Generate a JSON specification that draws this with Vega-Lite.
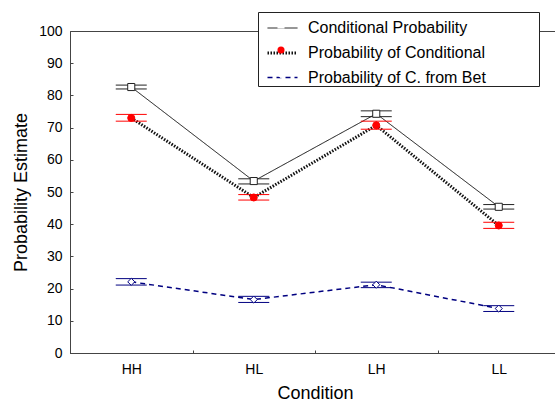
{
  "$schema": "https://vega.github.io/schema/vega-lite/v6.json",
  "width": 485,
  "height": 322,
  "autosize": {"type": "none"},
  "padding": {"left": 70, "top": 31, "right": 0, "bottom": 50},
  "background": "white",
  "config": {
    "font": "Liberation Sans",
    "view": {"stroke": "#444", "strokeWidth": 1},
    "axis": {"grid": false, "domainColor": "#444", "tickColor": "#444", "labelColor": "black", "titleColor": "black", "titleFontWeight": "normal", "labelOverlap": false}
  },
  "data": {
    "values": [
      {"condition": "HH", "series": "Conditional Probability", "value": 82.6, "lo": 82.0, "hi": 83.2},
      {"condition": "HL", "series": "Conditional Probability", "value": 53.4, "lo": 52.5, "hi": 54.1},
      {"condition": "LH", "series": "Conditional Probability", "value": 74.3, "lo": 73.4, "hi": 75.2},
      {"condition": "LL", "series": "Conditional Probability", "value": 45.4, "lo": 44.7, "hi": 46.1},
      {"condition": "HH", "series": "Probability of Conditional", "value": 73.0, "lo": 72.0, "hi": 74.1},
      {"condition": "HL", "series": "Probability of Conditional", "value": 48.3, "lo": 47.5, "hi": 49.2},
      {"condition": "LH", "series": "Probability of Conditional", "value": 70.7, "lo": 69.5, "hi": 72.0},
      {"condition": "LL", "series": "Probability of Conditional", "value": 39.6, "lo": 38.7, "hi": 40.6},
      {"condition": "HH", "series": "Probability of C. from Bet", "value": 22.1, "lo": 21.1, "hi": 23.1},
      {"condition": "HL", "series": "Probability of C. from Bet", "value": 16.6, "lo": 15.7, "hi": 17.6},
      {"condition": "LH", "series": "Probability of C. from Bet", "value": 21.2, "lo": 20.3, "hi": 22.0},
      {"condition": "LL", "series": "Probability of C. from Bet", "value": 13.8, "lo": 12.9, "hi": 14.7}
    ]
  },
  "encoding": {
    "x": {
      "field": "condition",
      "type": "nominal",
      "sort": ["HH", "HL", "LH", "LL"],
      "scale": {"type": "band", "domain": ["HH", "HL", "LH", "LL"], "paddingInner": 0, "paddingOuter": 0, "range": [0, 490]},
      "axis": {
        "title": "Condition",
        "labelAngle": 0,
        "tickBand": "extent",
        "tickSize": -3,
        "labelPadding": 12,
        "labelFontSize": 14,
        "titleFontSize": 18,
        "titlePadding": 8
      }
    }
  },
  "layer": [
    {
      "mark": {"type": "line"},
      "encoding": {
        "y": {
          "field": "value",
          "type": "quantitative",
          "scale": {"domain": [0, 100], "nice": false},
          "axis": {"title": "Probability Estimate", "values": [0, 10, 20, 30, 40, 50, 60, 70, 80, 90, 100], "labelOverlap": false, "tickSize": -3, "labelPadding": 11, "labelFontSize": 14, "titleFontSize": 18, "titlePadding": 8}
        },
        "stroke": {
          "field": "series",
          "type": "nominal",
          "scale": {"domain": ["Conditional Probability", "Probability of Conditional", "Probability of C. from Bet"], "range": ["#111111", "#111111", "#000080"]},
          "legend": {
            "orient": "none",
            "legendX": 188,
            "legendY": -19,
            "direction": "vertical",
            "padding": 0.5,
            "fillColor": "white",
            "strokeColor": "#222222",
            "symbolType": "stroke",
            "symbolSize": 900,
            "symbolOffset": 7.5,
            "labelOffset": 9,
            "labelFontSize": 16,
            "labelColor": "black",
            "labelLimit": 400,
            "rowPadding": 0,
            "title": "Series",
            "titleOrient": "right",
            "titleFontSize": 10,
            "titleOpacity": 0,
            "titlePadding": 22.5,
            "zindex": 0,
            "encode": {
              "symbols": {
                "update": {
                  "strokeDash": {"scale": "strokeDash", "field": "value"},
                  "strokeWidth": {"scale": "strokeWidth", "field": "value"}
                }
              }
            }
          }
        },
        "strokeDash": {
          "field": "series",
          "type": "nominal",
          "scale": {"domain": ["Conditional Probability", "Probability of Conditional", "Probability of C. from Bet"], "range": [[1, 0], [1.5, 1.5], [5, 4]]},
          "legend": null
        },
        "strokeWidth": {
          "field": "series",
          "type": "nominal",
          "scale": {"type": "ordinal", "domain": ["Conditional Probability", "Probability of Conditional", "Probability of C. from Bet"], "range": [1, 3, 1.5]},
          "legend": null
        }
      }
    },
    {
      "mark": {"type": "rule", "strokeWidth": 1},
      "encoding": {
        "y": {"field": "lo", "type": "quantitative", "axis": {"title": "Probability Estimate", "values": [0, 10, 20, 30, 40, 50, 60, 70, 80, 90, 100], "labelOverlap": false, "tickSize": -3, "labelPadding": 11, "labelFontSize": 14, "titleFontSize": 18, "titlePadding": 8}},
        "y2": {"field": "hi"},
        "color": {
          "field": "series",
          "type": "nominal",
          "scale": {"domain": ["Conditional Probability", "Probability of Conditional", "Probability of C. from Bet"], "range": ["#222222", "#ff0000", "#000080"]},
          "legend": null
        }
      }
    },
    {
      "mark": {"type": "tick", "thickness": 1, "opacity": 1},
      "encoding": {
        "y": {"field": "lo", "type": "quantitative", "axis": {"title": "Probability Estimate", "values": [0, 10, 20, 30, 40, 50, 60, 70, 80, 90, 100], "labelOverlap": false, "tickSize": -3, "labelPadding": 11, "labelFontSize": 14, "titleFontSize": 18, "titlePadding": 8}},
        "size": {"value": 31},
        "color": {
          "field": "series",
          "type": "nominal",
          "scale": {"domain": ["Conditional Probability", "Probability of Conditional", "Probability of C. from Bet"], "range": ["#222222", "#ff0000", "#000080"]},
          "legend": null
        }
      }
    },
    {
      "mark": {"type": "tick", "thickness": 1, "opacity": 1},
      "encoding": {
        "y": {"field": "hi", "type": "quantitative", "axis": {"title": "Probability Estimate", "values": [0, 10, 20, 30, 40, 50, 60, 70, 80, 90, 100], "labelOverlap": false, "tickSize": -3, "labelPadding": 11, "labelFontSize": 14, "titleFontSize": 18, "titlePadding": 8}},
        "size": {"value": 31},
        "color": {
          "field": "series",
          "type": "nominal",
          "scale": {"domain": ["Conditional Probability", "Probability of Conditional", "Probability of C. from Bet"], "range": ["#222222", "#ff0000", "#000080"]},
          "legend": null
        }
      }
    },
    {
      "mark": {"type": "point", "filled": false, "opacity": 1, "strokeWidth": 1},
      "encoding": {
        "y": {"field": "value", "type": "quantitative", "axis": {"title": "Probability Estimate", "values": [0, 10, 20, 30, 40, 50, 60, 70, 80, 90, 100], "labelOverlap": false, "tickSize": -3, "labelPadding": 11, "labelFontSize": 14, "titleFontSize": 18, "titlePadding": 8}},
        "size": {"value": 50},
        "shape": {
          "field": "series",
          "type": "nominal",
          "scale": {"domain": ["Conditional Probability", "Probability of Conditional", "Probability of C. from Bet"], "range": ["square", "circle", "diamond"]},
          "legend": {
            "orient": "top-left",
            "offset": -19,
            "direction": "vertical",
            "padding": 5,
            "symbolSize": 50,
            "symbolOffset": 217,
            "symbolOpacity": 1,
            "symbolStrokeWidth": 1,
            "symbolStrokeColor": "#333333",
            "labelFontSize": 16,
            "labelExpr": "''",
            "rowPadding": 9,
            "title": null,
            "zindex": 1,
            "encode": {
              "symbols": {
                "update": {
                  "fill": {"scale": "fill", "field": "value"},
                  "stroke": {"signal": "datum.value === 'Probability of C. from Bet' ? '#000080' : (datum.value === 'Probability of Conditional' ? '#ff0000' : '#333333')"},
                  "strokeWidth": {"value": 1},
                  "opacity": {"value": 1}
                }
              }
            }
          }
        },
        "fill": {
          "field": "series",
          "type": "nominal",
          "scale": {"domain": ["Conditional Probability", "Probability of Conditional", "Probability of C. from Bet"], "range": ["white", "#ff0000", "white"]},
          "legend": null
        },
        "color": {
          "field": "series",
          "type": "nominal",
          "scale": {"domain": ["Conditional Probability", "Probability of Conditional", "Probability of C. from Bet"], "range": ["#222222", "#ff0000", "#000080"]},
          "legend": null
        }
      }
    }
  ]
}
